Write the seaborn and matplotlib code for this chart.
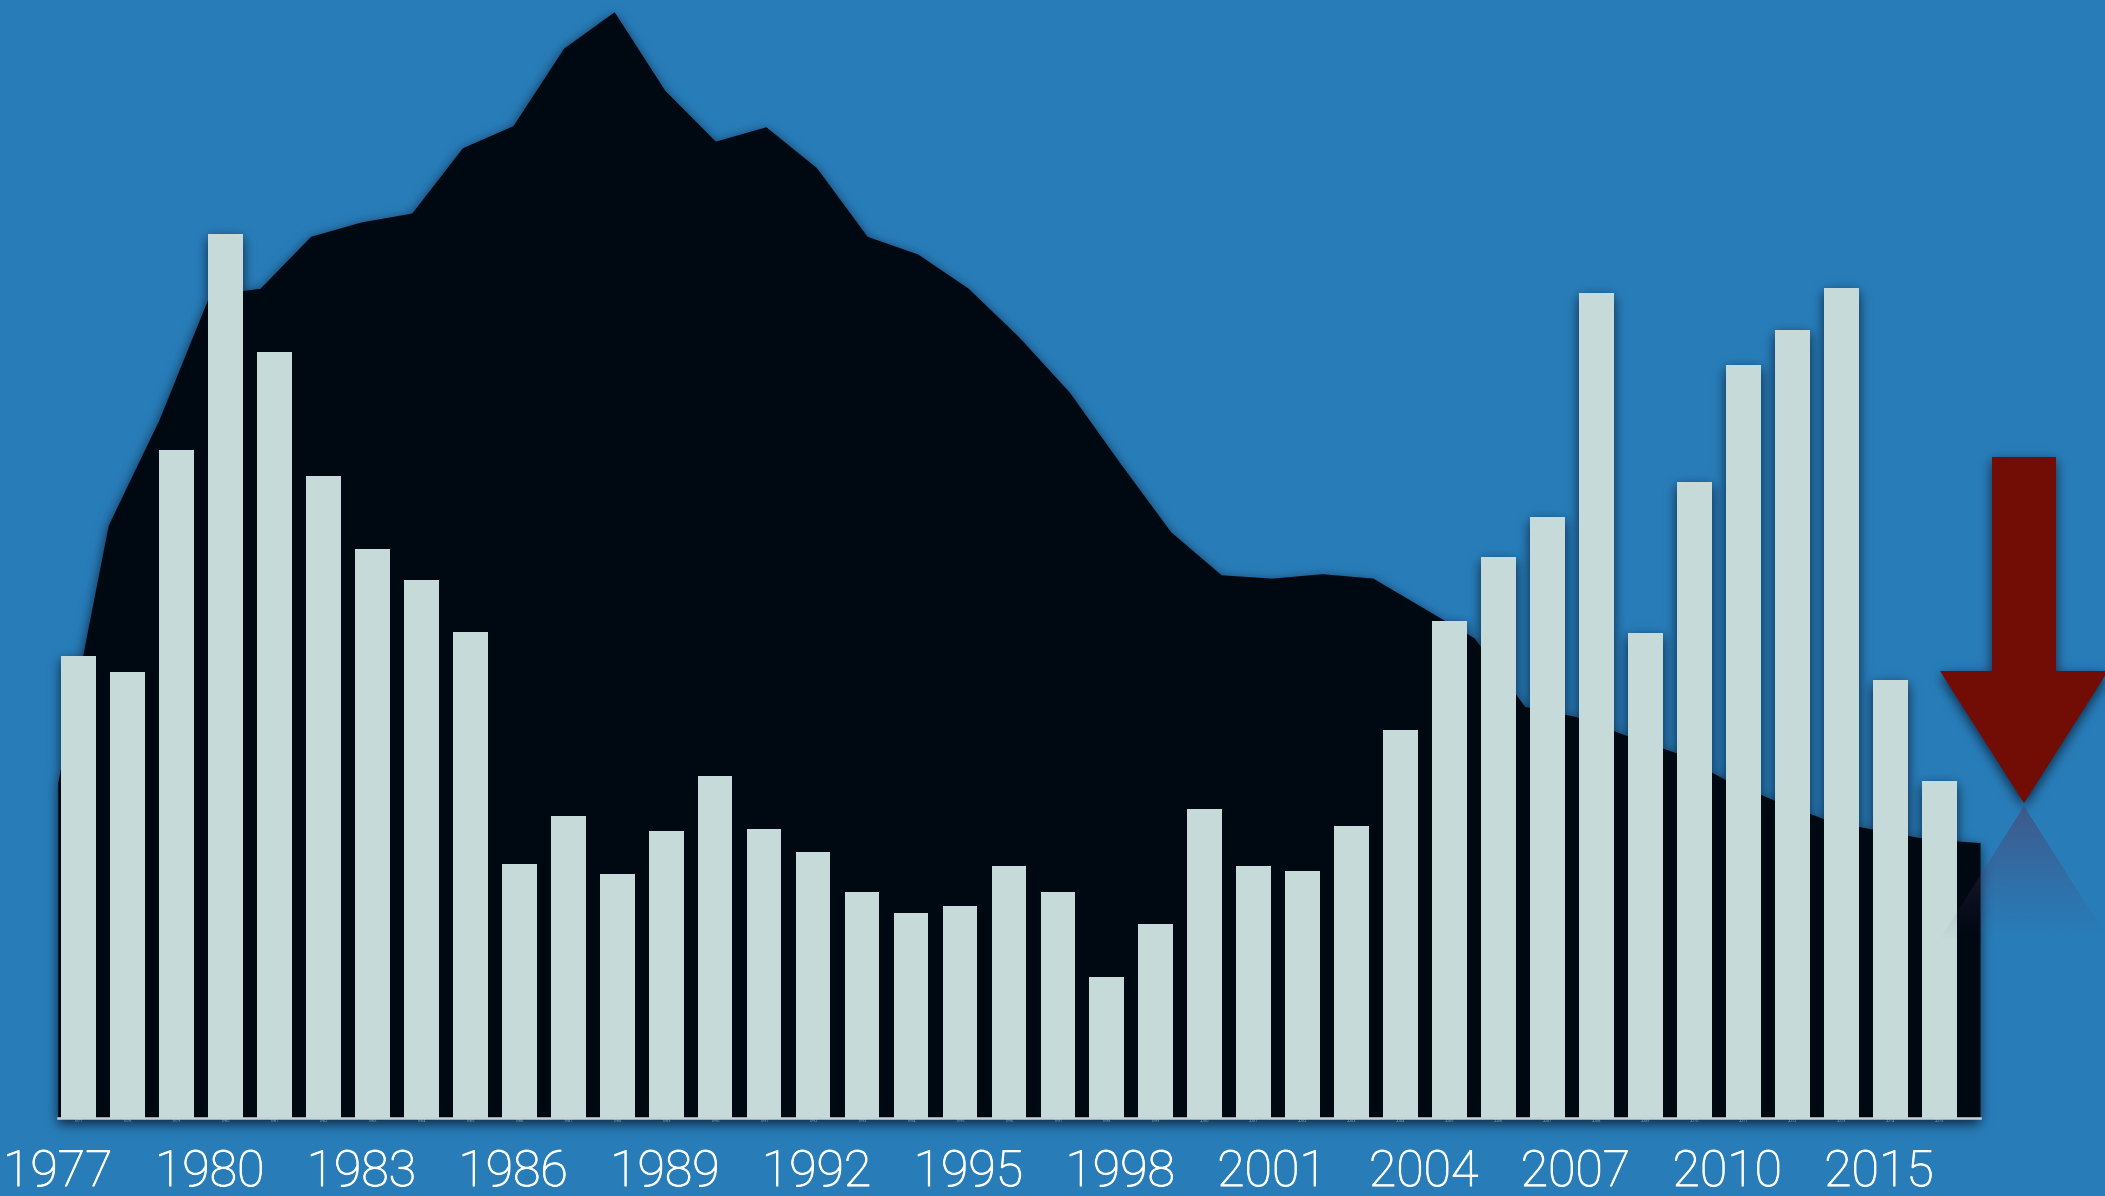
import numpy as np
import pandas as pd
import matplotlib
matplotlib.use("Agg")
import matplotlib.pyplot as plt
import matplotlib.patheffects as pe
from matplotlib.patches import Polygon
from matplotlib.path import Path
import seaborn as sns

# ---- data -------------------------------------------------------------
years = list(range(1977, 2016))
bar_values = [41.8, 40.3, 60.4, 79.9, 69.2, 58.0, 51.4, 48.6, 43.9,
              23.0, 27.3, 22.1, 25.9, 30.9, 26.1, 24.0, 20.4, 18.5, 19.2,
              22.8, 20.4, 12.7, 17.5, 27.9, 22.8, 22.3, 26.4, 35.1, 44.9,
              50.7, 54.3, 74.6, 43.8, 57.5, 68.1, 71.2, 75.0, 39.6, 30.5]
area_values = [30.3, 53.6, 63.1, 74.4, 75.0, 79.7, 81.0, 81.8, 87.7, 89.7,
               96.7, 100.0, 92.9, 88.3, 89.6, 85.9, 79.7, 78.1, 75.0, 70.6,
               65.6, 59.2, 53.0, 49.1, 48.8, 49.2, 48.8, 46.1, 43.4, 37.2,
               36.3, 34.6, 33.0, 30.5, 28.6, 26.9, 26.0, 25.2, 24.9]
axis_labels = ["1977", "1980", "1983", "1986", "1989", "1992", "1995",
               "1998", "2001", "2004", "2007", "2010", "2015"]

# ---- style ------------------------------------------------------------
BG = "#287db9"
AREA = "#000812"
BAR = "#c6dada"
ARROW = "#720d06"
BASE = "#c9d4d8"

sns.set_theme(style="white")
plt.rcParams["font.family"] = ["Roboto", "DejaVu Sans"]

W, H = 2105, 1196
fig = plt.figure(figsize=(W / 100, H / 100), dpi=100)
fig.patch.set_facecolor(BG)

# plot rectangle (baseline at y=1118 px, top of the scale at y=12 px)
left, right, base_y, top_y = 57.7, 1980.0, 1118.0, 11.7
pos = [left / W, (H - base_y) / H, (right - left) / W, (base_y - top_y) / H]

ax_area = fig.add_axes(pos, zorder=1)
ax_bar = fig.add_axes(pos, zorder=2)
for a in (ax_area, ax_bar):
    a.set_facecolor("none")
    a.set_ylim(0, 100)
    a.set_yticks([])
    for s in a.spines.values():
        s.set_visible(False)

# ---- background area --------------------------------------------------
area_x = np.arange(len(area_values))
poly = ax_area.fill_between(area_x, area_values, 0, color=AREA, lw=0, clip_on=False)
ax_area.set_xlim(area_x[0], area_x[-1])
ax_area.set_xticks(area_x[::3])
ax_area.set_xticklabels(axis_labels, fontsize=36, color="white",
                        fontweight="light")
for t in ax_area.get_xticklabels():
    t.set_path_effects([pe.withStroke(linewidth=0.7, foreground="white")])
ax_area.tick_params(axis="x", length=0, pad=22)

# ---- bars -------------------------------------------------------------
df = pd.DataFrame({"year": [str(y) for y in years], "value": bar_values})
sns.barplot(data=df, x="year", y="value", ax=ax_bar, color=BAR,
            saturation=1, width=0.71, linewidth=0, edgecolor="none")
ax_bar.set_xlim(-0.4248, 38.83)
ax_bar.set_ylim(0, 100)
ax_bar.set_xlabel("")
ax_bar.set_ylabel("")
ax_bar.tick_params(axis="x", length=0, pad=1, labelsize=3, labelcolor="#8fa2b0")
ax_bar.spines["bottom"].set_visible(True)
ax_bar.spines["bottom"].set_color(BASE)
ax_bar.spines["bottom"].set_linewidth(1.8)

# ---- downward arrow with its reflection ------------------------------
deco = fig.add_axes([0, 0, 1, 1], zorder=3)
deco.set_xlim(0, W)
deco.set_ylim(H, 0)
deco.axis("off")
deco.set_facecolor("none")

arrow_pts = [(1992, 457), (2056, 457), (2056, 671), (2108, 671),
             (2024, 803), (1940, 671), (1992, 671)]
arrow = Polygon(arrow_pts, closed=True, facecolor=ARROW, edgecolor="none",
                clip_on=False)
deco.add_patch(arrow)

refl = Polygon([(2024, 806), (2110, 942), (1938, 942)], closed=True,
               facecolor="none", edgecolor="none")
deco.add_patch(refl)
n = 128
grad = np.zeros((n, 1, 4))
grad[:, 0, 0] = 80 / 255
grad[:, 0, 1] = 62 / 255
grad[:, 0, 2] = 105 / 255
grad[:, 0, 3] = np.linspace(0.62, 0.0, n) ** 1.2
img = deco.imshow(grad, extent=(1938, 2110, 942, 806), aspect="auto",
                  interpolation="bicubic", origin="upper")
img.set_clip_path(refl)
deco.set_xlim(0, W)
deco.set_ylim(H, 0)

# ---- soft drop shadow under area, bars and arrow -----------------------
fig.canvas.draw()
mask = np.zeros((H, W))
yy, xx = np.mgrid[0:H, 0:W]
grid = np.column_stack([xx.ravel() + 0.5, yy.ravel() + 0.5])

area_path = poly.get_paths()[0]
inside = area_path.contains_points(grid, transform=ax_area.transData)
mask[inside.reshape(H, W)] = 1.0

arrow_disp = deco.transData.transform(np.array(arrow_pts, dtype=float))
arrow_path = Path(np.vstack([arrow_disp, arrow_disp[:1]]))
inside = arrow_path.contains_points(grid)
mask[inside.reshape(H, W)] = 1.0

for p in ax_bar.patches:
    bb = p.get_window_extent()
    x0, x1 = int(round(bb.x0)), int(round(bb.x1))
    y0, y1 = int(round(bb.y0)), int(round(bb.y1))
    mask[max(y0, 0):y1, max(x0, 0):x1] = 1.0

# baseline strip
bb = ax_bar.get_window_extent()
mask[int(bb.y0) - 2:int(bb.y0) + 1, int(bb.x0):int(bb.x1)] = 1.0

pad = 60
m = np.pad(mask, pad)
sigma = 6.0
ky = np.fft.fftfreq(m.shape[0])
kx = np.fft.rfftfreq(m.shape[1])
G = np.exp(-2 * (np.pi * sigma) ** 2 * (ky[:, None] ** 2 + kx[None, :] ** 2))
blur = np.fft.irfft2(np.fft.rfft2(m) * G, s=m.shape)[pad:-pad, pad:-pad]
drop = 4
blur = np.roll(blur, -drop, axis=0)
blur[-drop:, :] = 0

shade = np.zeros((H, W, 4))
shade[..., 2] = 0.05
shade[..., 3] = np.clip(blur * 0.7, 0, 1)

sh = fig.add_axes([0, 0, 1, 1], zorder=0.5)
sh.axis("off")
sh.imshow(shade, extent=(0, W, 0, H), origin="lower", interpolation="nearest",
          aspect="auto")
sh.set_xlim(0, W)
sh.set_ylim(0, H)

fig.savefig("out.png", dpi=100, facecolor=BG)
